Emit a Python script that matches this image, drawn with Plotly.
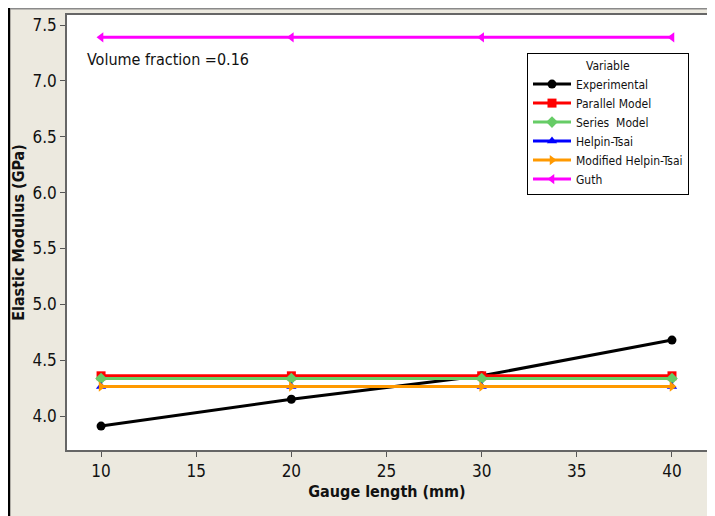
import plotly.graph_objects as go

gauge_length = [10, 20, 30, 40]
experimental = [3.91, 4.15, 4.36, 4.68]
parallel_model = [4.36, 4.36, 4.36, 4.36]
series_model = [4.335, 4.335, 4.335, 4.335]
halpin_tsai = [4.265, 4.265, 4.265, 4.265]
modified_halpin_tsai = [4.265, 4.265, 4.265, 4.265]
guth = [7.39, 7.39, 7.39, 7.39]

series = [
    ("Experimental", experimental, "#000000", "circle"),
    ("Parallel Model", parallel_model, "#FF0000", "square"),
    ("Series  Model", series_model, "#66CC66", "diamond"),
    ("Helpin-Tsai", halpin_tsai, "#0000FF", "triangle-up"),
    ("Modified Helpin-Tsai", modified_halpin_tsai, "#FF9900", "triangle-right"),
    ("Guth", guth, "#FF00FF", "triangle-left"),
]

FONT = "DejaVu Sans Condensed, Liberation Sans, Arial, sans-serif"

fig = go.Figure()
for name, vals, color, sym in series:
    fig.add_trace(go.Scatter(
        x=gauge_length, y=vals, name=name, mode="lines+markers",
        line=dict(color=color, width=3),
        marker=dict(symbol=sym, size=9, color=color),
    ))

# page has an 8px body margin; figure starts at page (8, 8)
OFF = 8
W, H = 715 - OFF, 516 - OFF
L, R, T, B = 67 - OFF, 8, 15 - OFF, 66
pw, ph = W - L - R, H - T - B

def px(x):  # page x -> paper
    return (x - OFF - L) / pw

def py(y):  # page y -> paper
    return (H - B - (y - OFF)) / ph

shapes = [
    dict(type="line", xref="paper", yref="paper", x0=px(9), x1=px(9), y0=py(OFF), y1=py(530),
         line=dict(color="black", width=2.5)),
    dict(type="line", xref="paper", yref="paper", x0=px(10), x1=px(713), y0=py(OFF + 0.8), y1=py(OFF + 0.8),
         line=dict(color="#8A8A8A", width=1.5)),
    dict(type="line", xref="paper", yref="paper", x0=px(713), x1=px(713), y0=py(OFF), y1=py(530),
         line=dict(color="#8A8A8A", width=1.5)),
]

fig.update_layout(
    width=W, height=H,
    margin=dict(l=L, r=R, t=T, b=B, autoexpand=False),
    paper_bgcolor="#ECE9DF",
    plot_bgcolor="white",
    font=dict(family=FONT, color="#111111", size=16),
    showlegend=True,
    legend=dict(
        title=dict(text="Variable", font=dict(size=12, family=FONT), side="top center"),
        font=dict(size=12, family=FONT),
        x=px(527), y=py(53), xanchor="left", yanchor="top",
        bgcolor="white", bordercolor="black", borderwidth=1,
        itemwidth=38, tracegroupgap=0,
    ),
    xaxis=dict(
        range=[8.21, 41.84], tickvals=[10, 15, 20, 25, 30, 35, 40],
        ticks="outside", ticklen=5, tickcolor="#555555", automargin=False,
        showgrid=False, zeroline=False, showline=True, linecolor="#666666", linewidth=1.5,
        mirror=True, tickfont=dict(size=17, family=FONT),
        title=dict(text="<b>Gauge length (mm)</b>", font=dict(size=16, family=FONT), standoff=6),
    ),
    yaxis=dict(
        range=[3.696, 7.59], tickvals=[4.0, 4.5, 5.0, 5.5, 6.0, 6.5, 7.0, 7.5],
        ticktext=["4.0", "4.5", "5.0", "5.5", "6.0", "6.5", "7.0", "7.5"],
        ticks="outside", ticklen=5, tickcolor="#555555", automargin=False,
        showgrid=False, zeroline=False, showline=True, linecolor="#666666", linewidth=1.5,
        mirror=True, tickfont=dict(size=17, family=FONT),
        title=dict(text="<b>Elastic Modulus (GPa)</b>", font=dict(size=16, family=FONT), standoff=4),
    ),
    shapes=shapes,
    annotations=[dict(
        text="Volume fraction =0.16", xref="paper", yref="paper",
        x=px(85), y=py(60), xanchor="left", yanchor="middle", showarrow=False,
        font=dict(size=16, family=FONT, color="#111111"),
    )],
)

fig.write_html("out.html")
